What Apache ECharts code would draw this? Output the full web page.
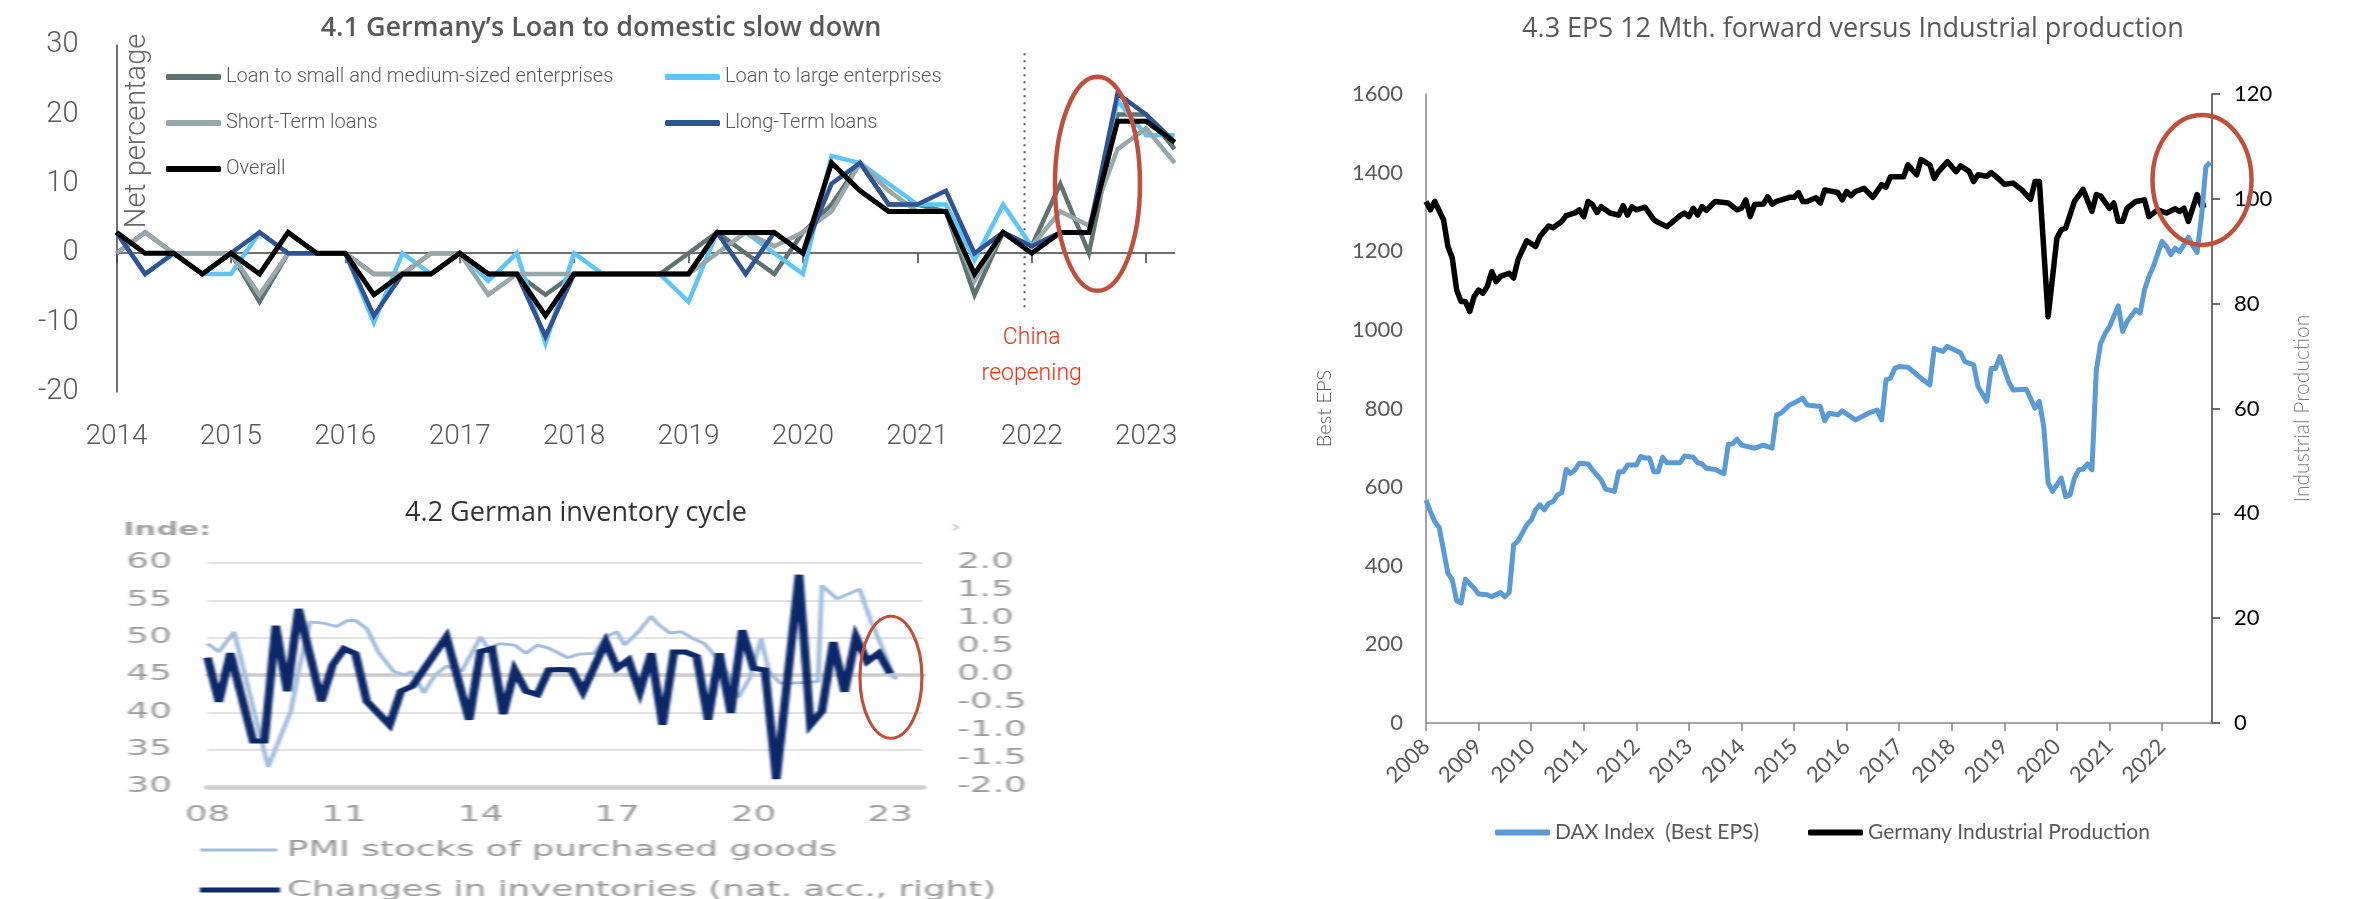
<!DOCTYPE html>
<html>
<head>
<meta charset="utf-8">
<script src="https://cdn.jsdelivr.net/npm/echarts@6/dist/echarts.min.js"></script>
<style>
  html, body { margin: 0; padding: 0; background: #ffffff; }
  /* inventory-cycle panel: drawn narrow, then stretched sideways like the pasted source graphic */
  #inv { position: absolute; left: 0; top: 0; width: 1393px; height: 899px;
         transform: scaleX(1.7); transform-origin: 0 0; filter: blur(0.7px); }
  #main { position: absolute; left: 0; top: 0; width: 2367px; height: 899px; z-index: 2; }
</style>
</head>
<body>
<div id="inv"></div>
<div id="main"></div>
<script>
// ---------- 4.1 bank lending survey, net percentage, quarterly 2014 Q1 - 2023 Q2 ----------
const loanYears = [2014, 2015, 2016, 2017, 2018, 2019, 2020, 2021, 2022, 2023];
const smeLoans      = [0, 3, 0, 0, 0, -7, 0, 0, 0, -3, -3, 0, 0, -3, -3, -6, -3, -3, -3, -3, 0, 3, 0, -3, 3, 7, 13, 7, 7, 6, -6, 3, 1, 10, 0, 20, 20, 15];
const largeLoans    = [3, -3, 0, -3, -3, 3, 0, 0, 0, -10, 0, -3, 0, -4, 0, -13, 0, -3, -3, -3, -7, 3, 3, 0, -3, 14, 13, 10, 7, 7, -1, 7, 1, 3, 3, 22, 17, 17];
const shortTerm     = [0, 3, 0, 0, 0, -6, 0, 0, 0, -3, -3, 0, 0, -6, -3, -3, -3, -3, -3, -3, -3, 0, 3, 1, 3, 6, 13, 9, 6, 6, -4, 3, 1, 6, 4, 15, 18, 13];
const longTerm      = [3, -3, 0, -3, 0, 3, 0, 0, 0, -9, -3, -3, 0, -3, -3, -12, -3, -3, -3, -3, -3, 3, -3, 3, 0, 10, 13, 7, 7, 9, 0, 3, 1, 3, 3, 23, 20, 16];
const overallLoans  = [3, 0, 0, -3, 0, -3, 3, 0, 0, -6, -3, -3, 0, -3, -3, -9, -3, -3, -3, -3, -3, 3, 3, 3, 0, 13, 9, 6, 6, 6, -3, 3, 0, 3, 3, 19, 19, 16];
const loanTicks = [-20, -10, 0, 10, 20, 30];

// ---------- 4.2 inventory cycle ----------
const pmiStocks = [
  ['2008-01', 49.2], ['2008-04', 48.1], ['2008-08', 50.8], ['2009-05', 32.7], ['2009-11', 40.2],
  ['2010-01', 45.5], ['2010-04', 52.1], ['2010-08', 51.9], ['2010-11', 51.5], ['2011-02', 52.3],
  ['2011-04', 52.3], ['2011-07', 51.2], ['2011-10', 48.1], ['2012-02', 45.5], ['2012-05', 45.0],
  ['2012-07', 45.5], ['2012-10', 42.6], ['2013-01', 45.0], ['2013-04', 46.2], ['2013-08', 45.5],
  ['2014-01', 50.1], ['2014-03', 48.6], ['2014-06', 49.2], ['2014-10', 49.0], ['2015-01', 47.9],
  ['2015-04', 49.0], ['2015-07', 48.6], ['2015-12', 47.3], ['2016-03', 47.8], ['2016-07', 47.9],
  ['2016-10', 50.1], ['2017-01', 50.8], ['2017-03', 49.0], ['2017-07', 51.0], ['2017-10', 52.9],
  ['2017-12', 51.7], ['2018-03', 50.6], ['2018-06', 50.8], ['2018-09', 49.9], ['2018-12', 49.2],
  ['2019-02', 48.1], ['2019-06', 45.3], ['2019-09', 42.0], ['2019-12', 44.6], ['2020-03', 49.9],
  ['2020-05', 45.5], ['2020-08', 43.9], ['2020-11', 43.9], ['2021-06', 44.1], ['2021-07', 57.0],
  ['2021-11', 55.2], ['2022-05', 56.5], ['2022-08', 52.1], ['2022-11', 48.6], ['2023-02', 44.6],
  ['2023-03', 44.6]
];
// quarterly from 2008 Q1; null where the quarter is not read
const inventoryChange = [
  0.31, -0.48, 0.39, null, -1.18, -1.18, 0.88, -0.29, 1.18, null,
  -0.47, 0.18, 0.47, 0.38, -0.47, null, -0.89, -0.29, -0.20, null,
  null, 0.68, null, -0.80, 0.42, 0.47, -0.70, 0.09, -0.29, -0.35,
  0.09, 0.10, 0.09, -0.30, null, 0.59, 0.12, 0.27, -0.30, 0.39,
  -0.89, 0.41, 0.41, 0.33, -0.80, 0.39, -0.68, 0.80, 0.12, 0.09,
  -1.86, null, 1.79, -0.89, -0.65, 0.59, -0.30, 0.68, 0.24, 0.39,
  0.03
];
const invStartYear = 2008;
const invYearLabels = [2008, 2011, 2014, 2017, 2020, 2023];

// ---------- 4.3 DAX best EPS (left) vs German industrial production (right), monthly ----------
const daxBestEps = [
  ['2008-01', 567], ['2008-02', 538], ['2008-03', 512], ['2008-04', 498], ['2008-06', 381], ['2008-07', 364],
  ['2008-08', 311], ['2008-09', 305], ['2008-10', 366], ['2008-12', 343], ['2009-01', 328], ['2009-03', 326],
  ['2009-04', 321], ['2009-06', 332], ['2009-07', 321], ['2009-08', 332], ['2009-09', 453], ['2009-10', 463],
  ['2009-12', 504], ['2010-01', 516], ['2010-02', 542], ['2010-03', 555], ['2010-04', 542], ['2010-05', 559],
  ['2010-06', 563], ['2010-07', 580], ['2010-08', 586], ['2010-09', 645], ['2010-10', 635], ['2010-11', 644],
  ['2010-12', 661], ['2011-02', 659], ['2011-03', 644], ['2011-05', 618], ['2011-06', 595], ['2011-08', 589],
  ['2011-09', 639], ['2011-10', 639], ['2011-11', 656], ['2012-01', 656], ['2012-02', 678], ['2012-03', 674],
  ['2012-04', 674], ['2012-05', 639], ['2012-06', 639], ['2012-07', 676], ['2012-08', 662], ['2012-11', 662],
  ['2012-12', 679], ['2013-02', 676], ['2013-03', 662], ['2013-04', 659], ['2013-05', 648], ['2013-07', 645],
  ['2013-09', 634], ['2013-10', 709], ['2013-11', 710], ['2013-12', 722], ['2014-01', 707], ['2014-04', 699],
  ['2014-06', 707], ['2014-08', 699], ['2014-09', 784], ['2014-10', 788], ['2014-12', 809], ['2015-01', 814],
  ['2015-03', 826], ['2015-04', 809], ['2015-07', 805], ['2015-08', 769], ['2015-09', 788], ['2015-11', 784],
  ['2015-12', 794], ['2016-03', 771], ['2016-06', 788], ['2016-08', 796], ['2016-09', 771], ['2016-10', 873],
  ['2016-11', 877], ['2016-12', 902], ['2017-01', 907], ['2017-03', 905], ['2017-05', 886], ['2017-08', 860],
  ['2017-09', 953], ['2017-11', 945], ['2017-12', 958], ['2018-03', 942], ['2018-04', 919], ['2018-06', 911],
  ['2018-07', 856], ['2018-09', 818], ['2018-10', 902], ['2018-11', 902], ['2018-12', 932], ['2019-02', 868],
  ['2019-03', 847], ['2019-06', 849], ['2019-08', 801], ['2019-09', 818], ['2019-10', 754], ['2019-11', 610],
  ['2019-12', 589], ['2020-02', 623], ['2020-03', 576], ['2020-04', 580], ['2020-05', 623], ['2020-06', 644],
  ['2020-07', 646], ['2020-08', 659], ['2020-09', 644], ['2020-10', 898], ['2020-11', 966], ['2020-12', 991],
  ['2021-01', 1008], ['2021-03', 1061], ['2021-04', 996], ['2021-05', 1021], ['2021-07', 1051], ['2021-08', 1043],
  ['2021-09', 1102], ['2021-10', 1136], ['2021-11', 1161], ['2022-01', 1225], ['2022-02', 1212], ['2022-03', 1191],
  ['2022-04', 1208], ['2022-05', 1199], ['2022-06', 1216], ['2022-07', 1236], ['2022-08', 1214], ['2022-09', 1197],
  ['2022-10', 1288], ['2022-11', 1415], ['2022-12', 1426]
];
const germanyIP = [
  ['2008-01', 99.5], ['2008-02', 97.9], ['2008-03', 99.5], ['2008-05', 96.0], ['2008-06', 90.9], ['2008-07', 88.7],
  ['2008-08', 82.6], ['2008-09', 80.4], ['2008-10', 80.4], ['2008-11', 78.5], ['2008-12', 81.4], ['2009-01', 82.6],
  ['2009-02', 82.0], ['2009-03', 83.3], ['2009-04', 86.1], ['2009-05', 84.2], ['2009-06', 85.2], ['2009-08', 85.8],
  ['2009-09', 84.9], ['2009-10', 88.4], ['2009-12', 92.0], ['2010-02', 90.9], ['2010-03', 92.8], ['2010-05', 94.8],
  ['2010-06', 94.5], ['2010-08', 95.7], ['2010-09', 96.8], ['2010-11', 97.3], ['2010-12', 97.9], ['2011-01', 96.6],
  ['2011-02', 99.5], ['2011-03', 98.9], ['2011-04', 97.4], ['2011-05', 98.5], ['2011-07', 97.3], ['2011-09', 96.9],
  ['2011-10', 98.7], ['2011-11', 96.9], ['2011-12', 98.5], ['2012-01', 97.9], ['2012-03', 98.4], ['2012-05', 96.0],
  ['2012-06', 95.5], ['2012-08', 94.7], ['2012-11', 96.8], ['2012-12', 97.3], ['2013-01', 96.6], ['2013-02', 98.2],
  ['2013-03', 96.9], ['2013-04', 98.5], ['2013-05', 97.8], ['2013-07', 99.5], ['2013-10', 99.2], ['2013-12', 97.9],
  ['2014-01', 98.2], ['2014-02', 99.8], ['2014-03', 96.6], ['2014-04', 98.9], ['2014-06', 99.0], ['2014-07', 100.4],
  ['2014-08', 99.0], ['2014-09', 99.5], ['2014-12', 100.3], ['2015-01', 100.3], ['2015-02', 101.2], ['2015-03', 99.5],
  ['2015-04', 99.5], ['2015-06', 100.2], ['2015-07', 99.2], ['2015-08', 101.7], ['2015-11', 101.2], ['2015-12', 99.8],
  ['2016-01', 101.4], ['2016-02', 100.6], ['2016-03', 101.4], ['2016-05', 102.0], ['2016-07', 100.3], ['2016-09', 102.7],
  ['2016-10', 102.2], ['2016-11', 104.2], ['2017-02', 104.2], ['2017-03', 106.5], ['2017-04', 105.5], ['2017-05', 104.6],
  ['2017-06', 107.5], ['2017-08', 106.5], ['2017-09', 103.9], ['2017-10', 105.2], ['2017-12', 107.1], ['2018-02', 105.2],
  ['2018-03', 106.3], ['2018-05', 105.2], ['2018-06', 103.3], ['2018-07', 104.6], ['2018-09', 104.3], ['2018-10', 105.0],
  ['2018-12', 103.6], ['2019-01', 102.8], ['2019-03', 103.0], ['2019-05', 101.7], ['2019-07', 99.9], ['2019-08', 103.3],
  ['2019-09', 103.3], ['2019-11', 77.5], ['2020-01', 92.5], ['2020-02', 94.1], ['2020-03', 94.4], ['2020-05', 99.5],
  ['2020-07', 101.8], ['2020-09', 97.6], ['2020-10', 100.8], ['2020-11', 100.5], ['2021-01', 98.2], ['2021-02', 99.2],
  ['2021-03', 95.7], ['2021-04', 95.7], ['2021-05', 98.2], ['2021-07', 99.5], ['2021-09', 99.8], ['2021-10', 96.6],
  ['2021-12', 97.9], ['2022-02', 97.3], ['2022-04', 98.1], ['2022-05', 97.6], ['2022-06', 98.2], ['2022-07', 95.7],
  ['2022-09', 100.8], ['2022-10', 98.7], ['2022-11', 98.9]
];

// ---------- helpers ----------
const toYear = s => { const [y, m] = s.split('-').map(Number); return y + (m - 1) / 12; };
const loanQuarters = [];
loanYears.forEach(y => ['Q1', 'Q2', 'Q3', 'Q4'].forEach(q => loanQuarters.push(y + ' ' + q)));
loanQuarters.length = overallLoans.length;

const GREY = '#595959';
const THIN = 'Roboto';
const CAL = 'Lato';

// =====================================================================
// 4.2 panel (its own instance, stretched by CSS)
// =====================================================================
const STRETCH = 1.7;
const inv = echarts.init(document.getElementById('inv'));
const invLabel = { fontFamily: 'DejaVu Sans', fontSize: 21, color: '#9b9b9b' };
const invSpan = 15.725;
inv.setOption({
  animation: false,
  grid: { left: 122.06, top: 563, width: 420.9, height: 224 },
  xAxis: [
    { type: 'value', min: 0, max: invSpan, position: 'bottom',
      axisLine: { show: true, onZero: true, onZeroAxisIndex: 1, lineStyle: { color: '#cccccc', width: 3.5 } },
      axisTick: { show: false }, axisLabel: { show: false }, splitLine: { show: false } },
    { type: 'value', min: 0, max: invSpan, interval: 3, position: 'bottom',
      axisLine: { show: true, onZero: false, lineStyle: { color: '#d0d0d0', width: 4.5 } },
      axisTick: { show: false }, splitLine: { show: false },
      axisLabel: Object.assign({ margin: 18, showMaxLabel: false,
        formatter: v => invYearLabels.includes(invStartYear + v) ? String((invStartYear + v) % 100).padStart(2, '0') : '' }, invLabel) }
  ],
  yAxis: [
    { type: 'value', position: 'left', min: 30, max: 60, interval: 5,
      axisLine: { show: false }, axisTick: { show: false },
      axisLabel: Object.assign({ margin: 21 }, invLabel),
      splitLine: { show: true, lineStyle: { color: '#e2e2e2', width: 2 } } },
    { type: 'value', position: 'right', min: -2, max: 2, interval: 0.5,
      axisLine: { show: false }, axisTick: { show: false }, splitLine: { show: false },
      axisLabel: Object.assign({ margin: 20, align: 'left', formatter: v => v.toFixed(1) }, invLabel) }
  ],
  series: [
    { name: 'PMI stocks of purchased goods', type: 'line', xAxisIndex: 0, yAxisIndex: 0, z: 2,
      symbol: 'none', lineStyle: { color: '#a3bddc', width: 2.8 },
      data: pmiStocks.map(([d, v]) => [toYear(d) - invStartYear, v]) },
    { name: 'Changes in inventories (nat. acc., right)', type: 'line', xAxisIndex: 0, yAxisIndex: 1, z: 3,
      symbol: 'none', lineStyle: { color: '#0d2869', width: 5, join: 'miter', miterLimit: 6 },
      data: inventoryChange.map((v, q) => [q / 4, v]).filter(p => p[1] !== null) }
  ],
  graphic: [
    { type: 'text', x: 72.4, y: 530, style: { text: 'Inde:', fontFamily: 'DejaVu Sans', fontWeight: 'bold', fontSize: 18, fill: '#a3a3a3', verticalAlign: 'middle' } },
    { type: 'text', x: 559, y: 528, style: { text: '\u203A', fontFamily: 'DejaVu Sans', fontSize: 16, fill: '#bdbdbd', verticalAlign: 'middle' } },
    { type: 'line', shape: { x1: 117.6, y1: 850, x2: 163, y2: 850 }, style: { stroke: '#a3bddc', lineWidth: 3 } },
    { type: 'text', x: 168.8, y: 851, style: { text: 'PMI stocks of purchased goods', fontFamily: 'DejaVu Sans', fontSize: 21, fill: '#979797', verticalAlign: 'middle' } },
    { type: 'line', shape: { x1: 117.6, y1: 890, x2: 164.7, y2: 890 }, style: { stroke: '#0d2869', lineWidth: 5 } },
    { type: 'text', x: 168.8, y: 891, style: { text: 'Changes in inventories (nat. acc., right)', fontFamily: 'DejaVu Sans', fontSize: 21, fill: '#979797', verticalAlign: 'middle' } }
  ]
});

// =====================================================================
// 4.1 and 4.3 (crisp instance on top)
// =====================================================================
const main = echarts.init(document.getElementById('main'));
const loanSeries = (name, data, color, width) => ({
  name, type: 'line', xAxisIndex: 0, yAxisIndex: 0, data, symbol: 'none',
  lineStyle: { color, width, join: 'miter', miterLimit: 6 }, itemStyle: { color }
});
const loanLegendText = { fontFamily: THIN, fontWeight: 300, fontSize: 20, color: GREY };
const calText = { fontFamily: CAL, fontSize: 21, color: GREY };

main.setOption({
  animation: false,
  title: [
    { text: '4.1 Germany\u2019s Loan to domestic slow down', left: 601, top: 15, textAlign: 'center', padding: 0,
      textStyle: { fontFamily: 'Open Sans', fontWeight: 600, fontSize: 27, color: '#595959' } },
    { text: '4.2 German inventory cycle', left: 576, top: 500, textAlign: 'center', padding: 0,
      textStyle: { fontFamily: 'Open Sans', fontWeight: 400, fontSize: 27, color: '#333333' } },
    { text: '4.3 EPS 12 Mth. forward versus Industrial production', left: 1853, top: 16, textAlign: 'center', padding: 0,
      textStyle: { fontFamily: 'Open Sans', fontWeight: 400, fontSize: 27, color: '#595959' } }
  ],
  legend: [
    { data: ['Loan to small and medium-sized enterprises', 'Short-Term loans', 'Overall'],
      orient: 'vertical', left: 166, top: 67, padding: 0, itemWidth: 55, itemHeight: 6, itemGap: 26,
      icon: 'roundRect', selectedMode: false, textStyle: loanLegendText },
    { data: ['Loan to large enterprises', 'Llong-Term loans'],
      orient: 'vertical', left: 665, top: 67, padding: 0, itemWidth: 55, itemHeight: 6, itemGap: 26,
      icon: 'roundRect', selectedMode: false, textStyle: loanLegendText },
    { data: ['DAX Index  (Best EPS)', 'Germany Industrial Production'],
      orient: 'horizontal', left: 1495, top: 822, padding: 0, itemWidth: 55, itemHeight: 6, itemGap: 49,
      icon: 'roundRect', selectedMode: false, textStyle: calText }
  ],
  grid: [
    { left: 116.5, top: 45, width: 1058.2, height: 347 },
    { left: 1426, top: 94, width: 786, height: 629 }
  ],
  xAxis: [
    { gridIndex: 0, type: 'category', data: loanQuarters, boundaryGap: false,
      axisLine: { lineStyle: { color: '#404040', width: 1.5 } },
      axisTick: { show: true, interval: 3, length: 10, lineStyle: { color: '#404040', width: 1.5 } },
      axisLabel: { interval: 3, margin: 31, formatter: v => v.slice(0, 4),
        fontFamily: THIN, fontWeight: 300, fontSize: 28, color: GREY },
      splitLine: { show: false } },
    { gridIndex: 1, type: 'value', min: 2008, max: 2022.95, interval: 1,
      axisLine: { lineStyle: { color: '#868686', width: 1.5 } },
      axisTick: { show: true, length: 8, lineStyle: { color: '#868686', width: 1.5 } },
      axisLabel: Object.assign({ rotate: 45, margin: 20, showMaxLabel: false,
        formatter: v => Number.isInteger(v) ? String(v) : '' }, calText, { fontSize: 22 }),
      splitLine: { show: false } }
  ],
  yAxis: [
    { gridIndex: 0, type: 'value', min: loanTicks[0], max: loanTicks[loanTicks.length - 1], interval: 10,
      axisLine: { show: true, lineStyle: { color: '#404040', width: 1.5 } },
      axisTick: { show: false }, splitLine: { show: false },
      axisLabel: { margin: 38, fontFamily: THIN, fontWeight: 300, fontSize: 29, color: GREY } },
    { gridIndex: 1, type: 'value', position: 'left', min: 0, max: 1600, interval: 200,
      axisLine: { show: true, lineStyle: { color: '#868686', width: 1.5 } },
      axisTick: { show: false }, splitLine: { show: false },
      axisLabel: Object.assign({ margin: 23, formatter: v => String(v) }, calText, { fontSize: 22 }),
      name: 'Best EPS', nameLocation: 'middle', nameGap: 91, nameRotate: 90,
      nameTextStyle: { fontFamily: CAL, fontWeight: 300, fontSize: 20, color: GREY } },
    { gridIndex: 1, type: 'value', position: 'right', min: 0, max: 120, interval: 20,
      axisLine: { show: true, lineStyle: { color: '#404040', width: 1.5 } },
      axisTick: { show: true, length: 8, lineStyle: { color: '#404040', width: 1.5 } },
      splitLine: { show: false },
      axisLabel: { margin: 22, fontFamily: CAL, fontSize: 22, color: '#000000', formatter: v => String(v) },
      name: 'Industrial Production', nameLocation: 'middle', nameGap: 80, nameRotate: 90,
      nameTextStyle: { fontFamily: CAL, fontWeight: 300, fontSize: 21, color: '#808080' } }
  ],
  series: [
    loanSeries('Loan to small and medium-sized enterprises', smeLoans, '#5f7471', 4.5),
    loanSeries('Loan to large enterprises', largeLoans, '#5ec5f7', 4.5),
    loanSeries('Short-Term loans', shortTerm, '#98a8aa', 4.5),
    loanSeries('Llong-Term loans', longTerm, '#2f5496', 4.5),
    loanSeries('Overall', overallLoans, '#000000', 5),
    { name: 'Germany Industrial Production', type: 'line', xAxisIndex: 1, yAxisIndex: 2, z: 2,
      symbol: 'none', lineStyle: { color: '#000000', width: 5.5, join: 'round' }, itemStyle: { color: '#000000' },
      data: germanyIP.map(([d, v]) => [toYear(d), v]) },
    { name: 'DAX Index  (Best EPS)', type: 'line', xAxisIndex: 1, yAxisIndex: 1, z: 3,
      symbol: 'none', lineStyle: { color: '#5b9bd5', width: 5, join: 'round' }, itemStyle: { color: '#5b9bd5' },
      data: daxBestEps.map(([d, v]) => [toYear(d), v]) }
  ]
});

// ---------- annotations placed through the chart scales ----------
const p41 = (i, v) => main.convertToPixel({ xAxisIndex: 0, yAxisIndex: 0 }, [i, v]);
const x41 = f => { const i = Math.floor(f); const a = p41(i, 0)[0], b = p41(i + 1, 0)[0]; return a + (b - a) * (f - i); };
const reopenX = x41(31.75);
const loanRing = [x41(34.3), p41(0, 10)[1]];
const epsRing = main.convertToPixel({ xAxisIndex: 1, yAxisIndex: 2 }, [2022.76, 103.6]);
const invRingRaw = inv.convertToPixel({ xAxisIndex: 0, yAxisIndex: 0 }, [15.02, 44.7]);
const invRing = [invRingRaw[0] * STRETCH, invRingRaw[1]];
const RED_RING = '#c0503c';

main.setOption({
  graphic: [
    { type: 'text', x: 138, y: 131, rotation: Math.PI / 2,
      style: { text: 'Net percentage', fontFamily: THIN, fontWeight: 300, fontSize: 29, fill: '#666666', align: 'center', verticalAlign: 'middle' } },
    { type: 'line', shape: { x1: reopenX, y1: p41(0, 28.8)[1], x2: reopenX, y2: p41(0, -8.2)[1] },
      style: { stroke: '#555555', lineWidth: 2, lineDash: [2, 5] } },
    { type: 'text', x: x41(32.0), y: p41(0, -12.2)[1],
      style: { text: 'China', fontFamily: THIN, fontWeight: 300, fontSize: 23, fill: '#ff2a14', align: 'center', verticalAlign: 'middle' } },
    { type: 'text', x: x41(32.0), y: p41(0, -17.4)[1],
      style: { text: 'reopening', fontFamily: THIN, fontWeight: 300, fontSize: 23, fill: '#ff2a14', align: 'center', verticalAlign: 'middle' } },
    { type: 'ellipse', z: 10, shape: { cx: loanRing[0], cy: loanRing[1], rx: 42.5, ry: 107 },
      style: { fill: 'none', stroke: RED_RING, lineWidth: 4.5 } },
    { type: 'ellipse', z: 10, shape: { cx: epsRing[0], cy: epsRing[1], rx: 49.5, ry: 65 },
      style: { fill: 'none', stroke: RED_RING, lineWidth: 4.5 } },
    { type: 'ellipse', z: 10, shape: { cx: invRing[0], cy: invRing[1], rx: 31, ry: 61 },
      style: { fill: 'none', stroke: RED_RING, lineWidth: 3.2 } }
  ]
});
</script>
</body>
</html>
